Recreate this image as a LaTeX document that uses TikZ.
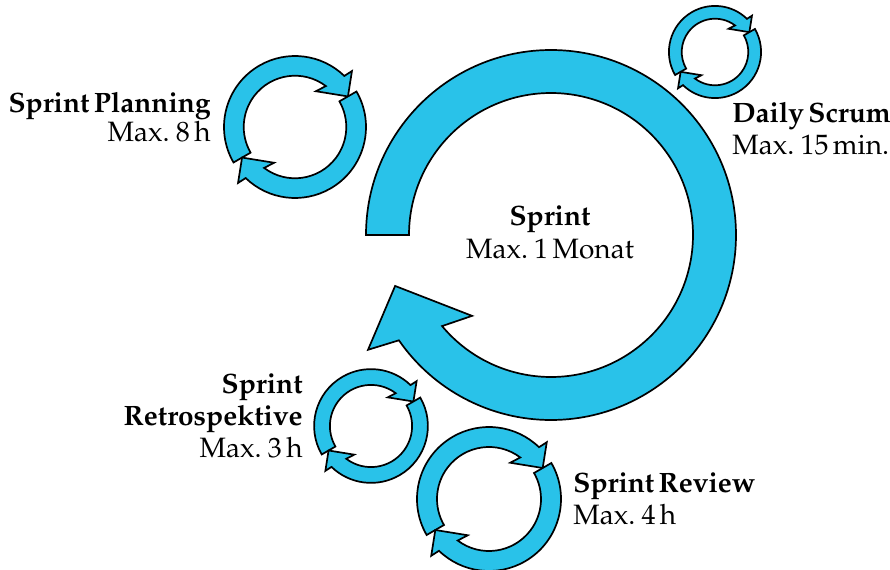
\documentclass[tikz,border=0pt]{standalone}
\usepackage[T1]{fontenc}
\usepackage{palatino}
\usepackage{tikz}

\definecolor{sprintblue}{RGB}{41,194,233}

% two arrows chasing each other round a ring (drawn for outer radius 72)
\newcommand{\minicycle}[3]{%
  \begin{scope}[shift={(#1,#2)}, scale=#3]
    \foreach \rot in {0,180}
      \draw[cyclearrow, rotate=\rot] (210:72) arc[start angle=210, end angle=46, radius=72]
        -- (44.5:81) -- (30:62) -- (59.7:42) -- (53:52)
        arc[start angle=53, end angle=210, radius=52] -- cycle;
  \end{scope}}

\begin{document}
\begin{tikzpicture}[x=0.5pt,y=0.5pt,
    cyclearrow/.style={draw=black, fill=sprintblue, line width=0.85pt},
    phase/.style={font=\fontsize{14}{16}\selectfont, inner sep=0pt,
      execute at begin node={\spaceskip=0.16em\relax}}]
  \useasboundingbox (0,0) rectangle (890,569);

  % Sprint
  \begin{scope}[shift={(551,334)}]
    \draw[cyclearrow] (180:185) arc[start angle=180, end angle=-145.3, radius=185]
      -- (-147.9:216) -- (-161.9:164) -- (-134.3:113) -- (-140.1:142)
      arc[start angle=-140.1, end angle=180, radius=142] -- cycle;
  \end{scope}
  \node[phase, font=\fontsize{14}{16.5}\selectfont, align=center, anchor=base] (sprint) at (550,311) {\textbf{Sprint}\\Max. 1 Monat};

  % Sprint Planning
  \minicycle{295}{442}{0.986}
  \node[phase, font=\fontsize{14}{14.5}\selectfont, align=right, anchor=base east] (planning) at (211,427) {\textbf{Sprint Planning}\\Max. 8 h};

  % Daily Scrum
  \minicycle{715}{517}{0.64}
  \node[phase, align=left, anchor=base west] (daily) at (732,415) {\textbf{Daily Scrum}\\Max. 15 min.};

  % Sprint Retrospektive
  \minicycle{371}{143}{0.79}
  \node[phase, align=right, anchor=base east] (retro) at (303,112) {\textbf{Sprint}\\\textbf{Retrospektive}\\Max. 3 h};

  % Sprint Review
  \minicycle{489}{70}{1}
  \node[phase, align=left, anchor=base west] (review) at (573,45) {\textbf{Sprint Review}\\Max. 4 h};
\end{tikzpicture}
\end{document}
